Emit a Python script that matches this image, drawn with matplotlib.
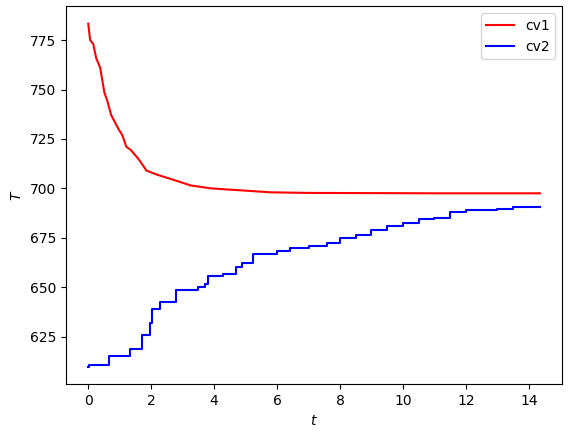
import numpy as np
import matplotlib
matplotlib.use("Agg")
import matplotlib.pyplot as plt

# cv1 (red)
t1 = [0.0, 0.06, 0.16, 0.25, 0.38, 0.51, 0.61, 0.73, 0.83, 0.96, 1.08, 1.21,
      1.34, 1.59, 1.85, 2.17, 2.77, 3.25, 3.89, 4.84, 5.80, 7.0, 9.0, 11.0, 14.35]
T1 = [783.3, 775, 773, 766, 761, 748.6, 744, 737, 734, 730, 727, 721,
      719.6, 715, 709, 707, 704, 701.5, 700, 699, 698, 697.7, 697.6, 697.5, 697.5]

# cv2 (blue) -- step levels
t2 = [0.0, 0.03, 0.67, 1.34, 1.72, 1.97, 2.04, 2.29, 2.80, 3.50, 3.72, 3.82,
      4.27, 4.71, 4.90, 5.25, 5.37, 6.0, 6.4, 7.0, 7.6, 8.0, 8.5, 9.0, 9.5,
      10.0, 10.5, 11.0, 11.5, 12.0, 13.0, 13.5, 14.35]
T2 = [609.5, 610.5, 615.2, 618.8, 626, 631.7, 639, 642.6, 648.8, 650, 651.4,
      655.5, 656.5, 660, 662, 666.9, 666.9, 668.5, 670, 671, 672.6, 675, 676.5,
      679, 681, 682.5, 684.5, 685, 688, 689, 689.5, 690.5, 690.5]

fig, ax = plt.subplots(figsize=(5.71, 4.32), dpi=100)
ax.plot(t1, T1, color="red", label="cv1")
ax.plot(t2, T2, color="blue", drawstyle="steps-post", label="cv2")
ax.set_xlabel(r"$t$")
ax.set_ylabel(r"$T$")
ax.legend()
fig.subplots_adjust(left=0.115, right=0.985, bottom=0.11, top=0.985)
fig.savefig("out.png", dpi=100)
